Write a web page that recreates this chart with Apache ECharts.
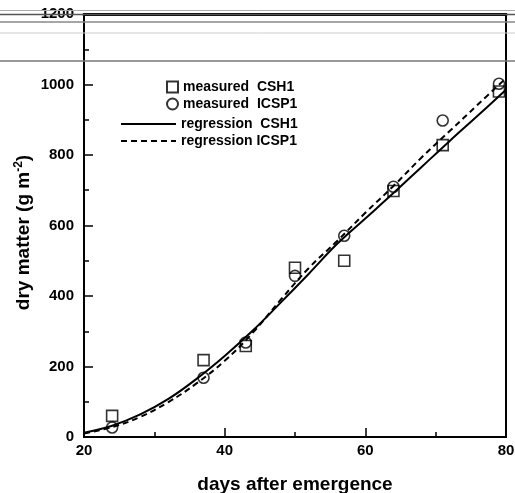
<!DOCTYPE html>
<html>
<head>
<meta charset="utf-8">
<script src="https://cdn.jsdelivr.net/npm/echarts@6/dist/echarts.min.js"></script>
<style>html,body{margin:0;padding:0;background:#fff}#c{width:515px;height:493px}</style>
</head>
<body>
<div id="c"></div>
<script>
// measured data
const measDays = [24, 37, 43, 50, 57, 64, 71, 79];
const measCSH1 = [60, 218, 258, 480, 500, 698, 828, 980];
const measICSP1 = [27, 168, 268, 457, 571, 710, 898, 1002];
// regression curves
const regDays = [20, 24, 28, 32, 36, 40, 44, 48, 52, 56, 60, 64, 68, 72, 76, 80];
const regCSH1 = [12, 32, 64, 108, 165, 230, 302, 382, 464, 548, 620, 692, 766, 840, 912, 985];
const regICSP1 = [10, 28, 57, 99, 152, 216, 296, 390, 480, 556, 636, 712, 793, 868, 943, 1018];
const xTicks = [20, 40, 60, 80];
const yTicks = [0, 200, 400, 600, 800, 1000, 1200];

const pair = (xs, ys) => xs.map((x, i) => [x, ys[i]]);
const font = '"Liberation Sans", Arial, sans-serif';

const chart = echarts.init(document.getElementById('c'), null, {renderer: 'canvas'});
const hollow = {color: 'rgba(255,255,255,0)', borderColor: '#000', borderWidth: 1.6};
const legendText = {fontFamily: font, fontWeight: 'bold', fontSize: 14, color: '#000'};
const clear = 'rgba(0,0,0,0)';
chart.setOption({
  backgroundColor: '#fff',
  animation: false,
  grid: {left: 84, right: 9, top: 14, bottom: 56, show: true, borderColor: '#000', borderWidth: 2,
    containLabel: false, outerBoundsMode: 'none'},
  legend: [
    {
      data: ['measured  CSH1', 'measured  ICSP1'],
      orient: 'vertical', left: 161, top: 75, itemGap: 3,
      itemWidth: 11, itemHeight: 11, selectedMode: false,
      textStyle: legendText
    },
    {
      data: ['regression  CSH1', 'regression ICSP1'],
      orient: 'vertical', left: 115, top: 112, itemGap: 3,
      itemWidth: 55, itemHeight: 12, selectedMode: false,
      itemStyle: {color: clear, borderColor: clear, borderWidth: 0},
      lineStyle: {color: '#000', width: 2},
      textStyle: legendText
    }
  ],
  xAxis: [{
    type: 'value', min: xTicks[0], max: xTicks[xTicks.length - 1], interval: 20,
    name: 'days after emergence', nameLocation: 'middle', nameGap: 38,
    nameTextStyle: {fontFamily: font, fontWeight: 'bold', fontSize: 19, color: '#000'},
    axisLine: {lineStyle: {color: '#000', width: 2}},
    axisTick: {inside: true, length: 9, lineStyle: {color: '#000', width: 1.5}},
    minorTick: {show: true, splitNumber: 2, length: 5, lineStyle: {color: '#000', width: 1.5}},
    axisLabel: {fontFamily: font, fontWeight: 'bold', fontSize: 15, color: '#000', margin: 6,
      formatter: v => String(v)},
    splitLine: {show: false}
  }, {
    type: 'value', position: 'top', min: 20, max: 80,
    axisLine: {show: true, lineStyle: {color: '#000', width: 3}},
    axisTick: {show: false}, axisLabel: {show: false}, splitLine: {show: false}
  }],
  yAxis: {
    type: 'value', min: yTicks[0], max: yTicks[yTicks.length - 1], interval: 200,
    name: '{a|dry matter (g m}{s|-2}{a|)}', nameLocation: 'middle', nameGap: 50,
    nameMoveOverlap: false,
    nameTextStyle: {
      padding: [0, 14, 0, 0],
      rich: {
        a: {fontFamily: font, fontWeight: 'bold', fontSize: 19, color: '#000'},
        s: {fontFamily: font, fontWeight: 'bold', fontSize: 12, color: '#000', verticalAlign: 'top', padding: [0, 0, 9, 0]}
      }
    },
    axisLine: {show: true, lineStyle: {color: '#000', width: 2}},
    axisTick: {inside: true, length: 9, lineStyle: {color: '#000', width: 1.5}},
    minorTick: {show: true, splitNumber: 2, length: 5, lineStyle: {color: '#000', width: 1.5}},
    axisLabel: {fontFamily: font, fontWeight: 'bold', fontSize: 15, color: '#000', margin: 10,
      formatter: v => String(v)},
    splitLine: {show: false}
  },
  series: [
    {
      name: 'regression  CSH1', type: 'line', data: pair(regDays, regCSH1),
      smooth: 0.4, symbol: 'none', lineStyle: {color: '#000', width: 2, type: 'solid'},
      itemStyle: {color: clear, borderColor: clear}
    },
    {
      name: 'regression ICSP1', type: 'line', data: pair(regDays, regICSP1),
      smooth: 0.4, symbol: 'none', lineStyle: {color: '#000', width: 2, type: [6, 4]},
      itemStyle: {color: clear, borderColor: clear}
    },
    {
      name: 'measured  CSH1', type: 'scatter', data: pair(measDays, measCSH1),
      symbol: 'rect', symbolSize: 11, itemStyle: hollow
    },
    {
      name: 'measured  ICSP1', type: 'scatter', data: pair(measDays, measICSP1),
      symbol: 'circle', symbolSize: 11, itemStyle: hollow
    }
  ],
  graphic: [
    {type: 'line', silent: true, z: 100, shape: {x1: 0, y1: 10.5, x2: 515, y2: 10.5}, style: {stroke: '#aaa', lineWidth: 1}},
    {type: 'line', silent: true, z: 100, shape: {x1: 0, y1: 14.5, x2: 515, y2: 14.5}, style: {stroke: '#555', lineWidth: 1.5}},
    {type: 'line', silent: true, z: 100, shape: {x1: 0, y1: 22, x2: 515, y2: 22}, style: {stroke: '#888', lineWidth: 1.5}},
    {type: 'line', silent: true, z: 100, shape: {x1: 0, y1: 33, x2: 515, y2: 33}, style: {stroke: '#ccc', lineWidth: 1}},
    {type: 'line', silent: true, z: 100, shape: {x1: 0, y1: 61, x2: 515, y2: 61}, style: {stroke: '#777', lineWidth: 1.5}}
  ]
});
</script>
</body>
</html>
